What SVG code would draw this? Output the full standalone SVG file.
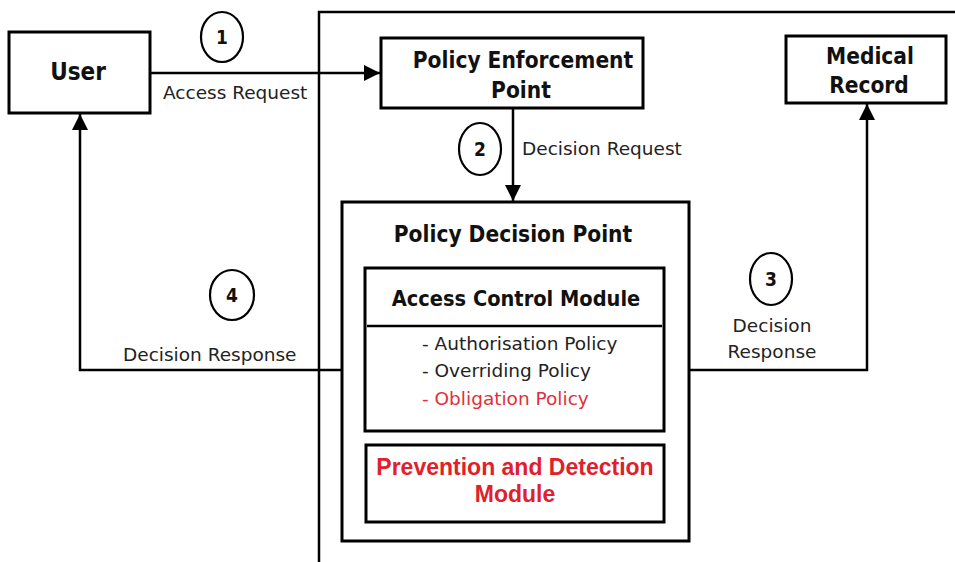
<svg xmlns="http://www.w3.org/2000/svg" width="955" height="562" viewBox="0 0 955 562">
<style>
.box{fill:#fff;stroke:#000;stroke-width:3}
.ln{fill:none;stroke:#000;stroke-width:2.5}
.b{font-family:"DejaVu Sans Condensed","DejaVu Sans",sans-serif;font-weight:bold;fill:#111;text-anchor:middle}
.r{font-family:"DejaVu Sans","Noto Sans",sans-serif;fill:#222;font-size:18.5px}
.red{font-family:"Liberation Sans",Arial,sans-serif;font-weight:bold;fill:#e0202a;font-size:23px;text-anchor:middle}
.num{fill:none;stroke:#000;stroke-width:2.2}
</style>
<defs>
<marker id="ahb" viewBox="0 0 10 10" refX="10" refY="5" markerWidth="6.4" markerHeight="6.4" orient="auto">
<path d="M0,0 L10,5 L0,10 Z" fill="#000"/>
</marker>
</defs>
<rect width="955" height="562" fill="#fff"/>
<g id="frame">
<path class="ln" d="M319,562 V12 H955" stroke-width="3"/>
</g>
<g id="connectors">
<path class="ln" d="M150,73 H380" marker-end="url(#ahb)"/>
<path class="ln" d="M513,108 V201" marker-end="url(#ahb)"/>
<path class="ln" d="M689,370 H867 V104" marker-end="url(#ahb)"/>
<path class="ln" d="M342,370 H80 V114" marker-end="url(#ahb)"/>
<ellipse class="num" cx="222" cy="37" rx="21" ry="25"/>
<text class="b" x="222" y="44" font-size="19">1</text>
<text class="r" x="163" y="99">Access Request</text>
<ellipse class="num" cx="480" cy="149" rx="21" ry="26"/>
<text class="b" x="480" y="156" font-size="19">2</text>
<text class="r" x="522" y="155">Decision Request</text>
<ellipse class="num" cx="771" cy="279" rx="21" ry="26"/>
<text class="b" x="771" y="286" font-size="19">3</text>
<text class="r" x="772" y="332" text-anchor="middle">Decision</text>
<text class="r" x="772" y="358" text-anchor="middle">Response</text>
<ellipse class="num" cx="232" cy="295" rx="22" ry="25"/>
<text class="b" x="232" y="302" font-size="19">4</text>
<text class="r" x="123" y="361">Decision Response</text>
</g>
<g id="user">
<rect class="box" x="9" y="32" width="141" height="81"/>
<text class="b" x="78" y="80" font-size="24">User</text>
</g>
<g id="pep">
<rect class="box" x="381" y="38" width="262" height="70"/>
<text class="b" x="523" y="68" font-size="22.5">Policy Enforcement</text>
<text class="b" x="521" y="98" font-size="22.5">Point</text>
</g>
<g id="medical">
<rect class="box" x="786" y="36" width="160" height="67"/>
<text class="b" x="870" y="64" font-size="22.5">Medical</text>
<text class="b" x="869" y="93" font-size="22.5">Record</text>
</g>
<g id="pdp">
<rect class="box" x="342" y="202" width="347" height="339"/>
<text class="b" x="513" y="242" font-size="22.5">Policy Decision Point</text>
</g>
<g id="acm">
<rect class="box" x="365" y="268" width="299" height="163"/>
<line x1="367" y1="326" x2="662" y2="326" stroke="#000" stroke-width="2.5"/>
<text class="b" x="516" y="306" font-size="21.6">Access Control Module</text>
<text class="r" x="422" y="350">- Authorisation Policy</text>
<text class="r" x="422" y="377">- Overriding Policy</text>
<text class="r" x="422" y="405" style="fill:#e03038">- Obligation Policy</text>
</g>
<g id="pdm">
<rect class="box" x="366" y="445" width="298" height="77"/>
<text class="red" x="515" y="475">Prevention and Detection</text>
<text class="red" x="515" y="502">Module</text>
</g>
</svg>
